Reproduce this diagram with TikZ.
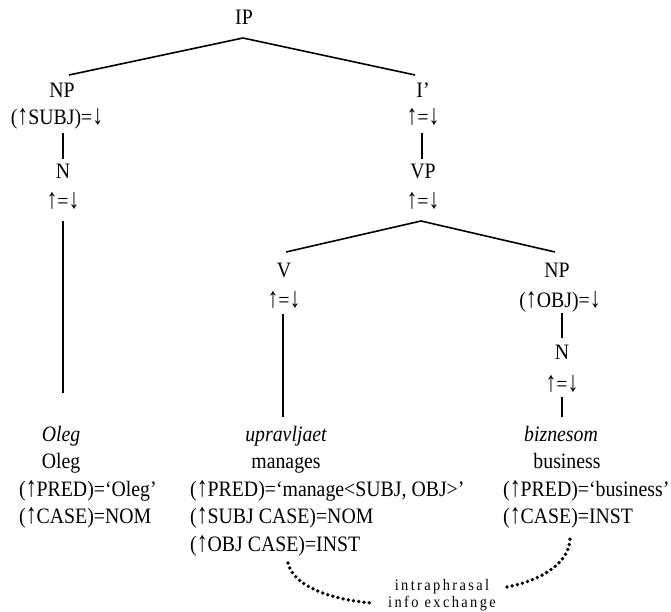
\documentclass[tikz,border=0pt]{standalone}
\usepackage{fontspec}
\usepackage{graphicx}
\setmainfont{Liberation Serif}[FakeStretch=0.9]
\newfontfamily\notefont{Liberation Serif}[FakeStretch=0.9,LetterSpace=15]
\newcommand\uarr{\scalebox{1.1}[1.3]{↑}}
\newcommand\darr{\scalebox{1.1}[1.3]{↓}}
\begin{document}
\begin{tikzpicture}[x=1pt,y=-1pt,
  lab/.style={inner sep=0pt, anchor=base, font=\fontsize{22}{26}\selectfont},
  labl/.style={lab, anchor=base west},
  edge/.style={line width=1.6pt},
  dots/.style={line width=3.8pt, line cap=round, dash pattern=on 0pt off 5.3pt},
  note/.style={inner sep=0pt, anchor=base, font=\notefont\fontsize{16}{18}\selectfont}]
\useasboundingbox (0,0) rectangle (671,612);
% top
\node[lab] (ip) at (244,25) {IP};
\node[lab] (np) at (62,98) {NP};
\node[lab] (npa) at (57,125) {(\uarr SUBJ)=\darr};
\node[lab] (n1) at (63,179) {N};
\node[lab] (n1a) at (63,208) {\uarr=\darr};
\node[lab] (ib) at (423,98) {I’};
\node[lab] (iba) at (423,125) {\uarr=\darr};
\node[lab] (vp) at (423,179) {VP};
\node[lab] (vpa) at (423,208) {\uarr=\darr};
\node[lab] (v) at (284,277) {V};
\node[lab] (va) at (284,307) {\uarr=\darr};
\node[lab] (np2) at (557,277) {NP};
\node[lab] (np2a) at (560,307) {(\uarr OBJ)=\darr};
\node[lab] (n2) at (562,359) {N};
\node[lab] (n2a) at (562,391) {\uarr=\darr};
% leaves
\node[lab] (w1) at (61,441) {\itshape Oleg};
\node[lab] (g1) at (61,468) {Oleg};
\node[labl] (p1) at (19,496) {(\uarr PRED)=‘Oleg’};
\node[labl] (c1) at (19,523) {(\uarr CASE)=NOM};
\node[lab] (w2) at (286,441) {\itshape upravljaet};
\node[lab] (g2) at (286,468) {manages};
\node[labl] (p2) at (190,496) {(\uarr PRED)=‘manage<SUBJ, OBJ>’};
\node[labl] (c2) at (190,523) {(\uarr SUBJ CASE)=NOM};
\node[labl] (o2) at (190,551) {(\uarr OBJ CASE)=INST};
\node[lab] (w3) at (561,441) {\itshape biznesom};
\node[lab] (g3) at (567,468) {business};
\node[labl] (p3) at (503,496) {(\uarr PRED)=‘business’};
\node[labl] (c3) at (503,523) {(\uarr CASE)=INST};
\node[note] (t1) at (442,590) {intraphrasal};
\node[note] (t2) at (442,607) {info exchange};
% branch points
\coordinate (ipj) at (243,38);
\coordinate (vpj) at (421,221);
% edges
\draw[edge] (69,75) -- (ipj) -- (415,75);
\draw[edge] (63,133) -- (63,159);
\draw[edge] (63,221) -- (63,393);
\draw[edge] (422,133) -- (422,159);
\draw[edge] (286,252) -- (vpj) -- (555,252);
\draw[edge] (283,314) -- (283,417);
\draw[edge] (562,313) -- (562,338);
\draw[edge] (562,397) -- (562,417);
% dotted exchange
\draw[dots] (288,563) .. controls (294,588) and (335,600) .. (372,603);
\draw[dots] (507,587) .. controls (543,580) and (570,562) .. (570,538);
\end{tikzpicture}
\end{document}
